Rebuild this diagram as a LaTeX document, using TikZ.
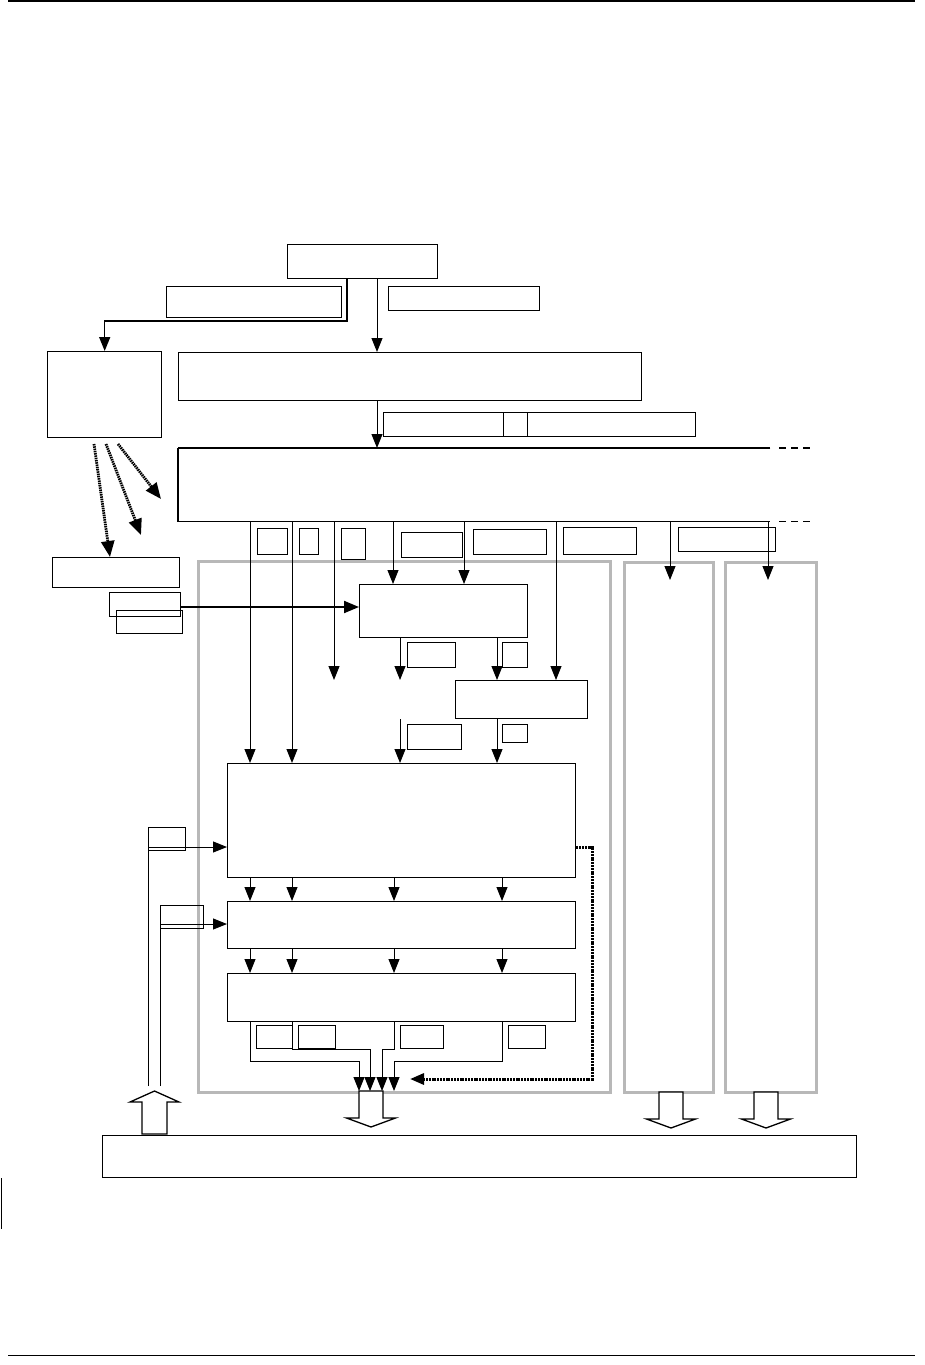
\documentclass[tikz,border=0pt]{standalone}
\usepackage{tikz}
\usetikzlibrary{arrows.meta, positioning, calc}

\tikzset{
  blk/.style={draw, line width=1.4pt, inner sep=0pt, anchor=north west},
  tag/.style={draw, line width=1.1pt, inner sep=0pt, anchor=north west},
  grp/.style={draw=black!28, line width=3pt, inner sep=0pt, anchor=north west},
  arr/.style={-{Triangle[length=14pt,width=11pt]}, line width=1pt},
  fatarr/.style={-{Triangle[length=15pt,width=12pt]}, line width=2pt},
  dotarr/.style={-{Triangle[length=16pt,width=13pt]}, line width=2.8pt, dash pattern=on 1.5pt off 0.8pt},
  hollow/.style={draw, line width=1.3pt, fill=white, line join=miter}
}
\newcommand{\fatdown}[2]{%
  \draw[hollow] (#1-12,#2) -- (#1+12,#2) -- (#1+12,#2+27) -- (#1+24.5,#2+27)
    -- (#1,#2+36) -- (#1-24.5,#2+27) -- (#1-12,#2+27) -- cycle;}

\begin{document}
\begin{tikzpicture}[x=1pt, y=-1pt]
\useasboundingbox (0,0) rectangle (924,1365);
% page rules
\draw[line width=1.5pt] (8,1) -- (915,1);
\draw[line width=1pt] (8,1355) -- (915,1355);
\draw[line width=1pt] (1,1178) -- (1,1229);

% grey groups
\node[grp, minimum width=412pt, minimum height=531pt] (grpMain) at (197,560) {};
\node[grp, minimum width=89pt, minimum height=530pt] (grpB) at (623,561) {};
\node[grp, minimum width=91pt, minimum height=530pt] (grpC) at (724,561) {};

% top part
\node[blk, minimum width=150pt, minimum height=34pt] (src) at (287,244) {};
\node[tag, minimum width=175pt, minimum height=31pt] (srcL) at (166,286) {};
\node[tag, minimum width=151pt, minimum height=24pt] (srcR) at (388,286) {};
\node[blk, minimum width=114pt, minimum height=86pt] (mon) at (47,351) {};
\node[blk, minimum width=463pt, minimum height=48pt] (dec) at (178,352) {};
\node[tag, minimum width=120pt, minimum height=24pt] (decA) at (383,412) {};
\node[tag, minimum width=24pt, minimum height=24pt] (decB) at (503,412) {};
\node[tag, minimum width=168pt, minimum height=24pt] (decC) at (527,412) {};
\node[inner sep=0pt, anchor=north west, minimum width=592pt, minimum height=73pt] (bus1) at (178,448) {};

\draw[arr] (377,0 |- src.south) -- (377,0 |- dec.north);
\draw[line width=1.5pt, -{Triangle[length=14pt,width=11pt]}] (347,0 |- src.south) |- (mon.north |- 0,321) -- (mon.north);
\draw[arr] (377,0 |- dec.south) -- (377,0 |- bus1.north);

% open bus box
\draw[line width=2pt] (bus1.north east) -- (bus1.north west);
\draw[line width=1.3pt] (bus1.north west) -- (bus1.south west) -- (bus1.south east);
\draw[line width=2pt, dash pattern=on 7pt off 5pt] (779,0 |- bus1.north) -- (812,0 |- bus1.north);
\draw[line width=1pt, dash pattern=on 7pt off 5pt] (779,0 |- bus1.south) -- (812,0 |- bus1.south);

% tags under the bus
\node[tag, minimum width=30pt, minimum height=26pt] (t1) at (257,528) {};
\node[tag, minimum width=19pt, minimum height=26pt] (t2) at (299,528) {};
\node[tag, minimum width=24pt, minimum height=31pt] (t3) at (341,528) {};
\node[tag, minimum width=61pt, minimum height=25pt] (t4) at (401,532) {};
\node[tag, minimum width=73pt, minimum height=25pt] (t5) at (473,529) {};
\node[tag, minimum width=73pt, minimum height=27pt] (t6) at (563,527) {};
\node[tag, minimum width=97pt, minimum height=24pt] (t7) at (678,527) {};

% left side
\node[tag, minimum width=127pt, minimum height=30pt] (ext) at (52,557) {};
\node[tag, minimum width=71pt, minimum height=24pt] (inA) at (109,592) {};
\node[tag, minimum width=66pt, minimum height=23pt] (inB) at (116,610) {};
\draw[dotarr] (94,444) -- (ext.north -| 110,0);
\draw[dotarr] (106,444) -- (141,535);
\draw[dotarr] (118,444) -- (161,499);

% units
\node[blk, minimum width=168pt, minimum height=53pt] (unitA) at (359,584) {};
\node[tag, minimum width=48pt, minimum height=25pt] (uA1) at (407,642) {};
\node[tag, minimum width=25pt, minimum height=25pt] (uA2) at (502,642) {};
\node[blk, minimum width=132pt, minimum height=38pt] (unitB) at (455,680) {};
\node[tag, minimum width=54pt, minimum height=25pt] (uB1) at (407,724) {};
\node[tag, minimum width=25pt, minimum height=18pt] (uB2) at (502,724) {};

\draw[fatarr] (inA.east |- 0,607) -- (unitA.west |- 0,607);

\node[blk, minimum width=348pt, minimum height=114pt] (core) at (227,763) {};
\node[blk, minimum width=348pt, minimum height=47pt] (stageA) at (227,901) {};
\node[blk, minimum width=348pt, minimum height=48pt] (stageB) at (227,973) {};
\node[tag, minimum width=37pt, minimum height=23pt] (fb1) at (148,827) {};
\node[tag, minimum width=43pt, minimum height=23pt] (fb2) at (160,905) {};
\node[tag, minimum width=36pt, minimum height=23pt] (o1) at (256,1025) {};
\node[tag, minimum width=37pt, minimum height=23pt] (o2) at (298,1025) {};
\node[tag, minimum width=43pt, minimum height=23pt] (o3) at (400,1025) {};
\node[tag, minimum width=37pt, minimum height=23pt] (o4) at (508,1025) {};

\node[tag, minimum width=754pt, minimum height=42pt] (sys) at (102,1135) {};

% drops from the bus
\foreach \x in {250,292} \draw[arr] (\x,0 |- bus1.south) -- (\x,0 |- core.north);
\draw[arr] (334,0 |- bus1.south) -- (334,680);
\foreach \x in {393,464} \draw[arr] (\x,0 |- bus1.south) -- (\x,0 |- unitA.north);
\draw[arr] (556,0 |- bus1.south) -- (556,0 |- unitB.north);
\foreach \x in {670,768} \draw[arr] (\x,0 |- bus1.south) -- (\x,580);

\draw[arr] (400,0 |- unitA.south) -- (400,680);
\draw[arr] (497,0 |- unitA.south) -- (497,0 |- unitB.north);
\draw[arr] (400,0 |- unitB.south) -- (400,0 |- core.north);
\draw[arr] (497,0 |- unitB.south) -- (497,0 |- core.north);

% core chain
\foreach \x in {250,292,394,502} {
  \draw[arr] (\x,0 |- core.south) -- (\x,0 |- stageA.north);
  \draw[arr] (\x,0 |- stageA.south) -- (\x,0 |- stageB.north);
}
\draw[arr] (148,1086) |- (core.west |- 0,847);
\draw[arr] (160,1086) |- (stageA.west |- 0,924);

\draw[arr] (250,0 |- stageB.south) |- (359,1061) -- (359,1091);
\draw[arr] (292,0 |- stageB.south) |- (370,1049) -- (370,1091);
\draw[arr] (394,0 |- stageB.south) |- (382,1049) -- (382,1091);
\draw[arr] (502,0 |- stageB.south) |- (394,1061) -- (394,1091);

\draw[dotarr, dash pattern=on 2pt off 0.8pt, line width=3pt, -{Triangle[length=14pt,width=11pt]}]
  (core.east |- 0,847) -| (592,1079) -- (410,1079);

% block arrows
\fatdown{371}{1091}
\fatdown{671}{1092}
\fatdown{766}{1092}
\draw[hollow] (142,1134) -- (142,1102) -- (130,1102) -- (154.5,1091) -- (179,1102)
  -- (167,1102) -- (167,1134) -- cycle;
\end{tikzpicture}
\end{document}
